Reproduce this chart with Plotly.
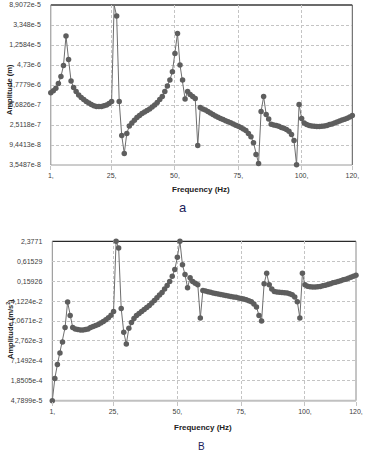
import math
import plotly.graph_objects as go

freq = list(range(1, 121))

displacement = [
    1.22e-6, 1.35e-6, 1.51e-6, 1.92e-6, 2.68e-6, 4.6e-6, 1.955e-5, 6.2e-6, 2.16e-6, 1.58e-6,
    1.29e-6, 1.09e-6, 9.7e-7, 8.79e-7, 7.97e-7, 7.37e-7, 6.88e-7, 6.48e-7, 6.24e-7, 6.2e-7,
    6.24e-7, 6.42e-7, 6.68e-7, 7.16e-7, 7.9e-7, 8.9072e-5, 5.2e-5, 7.9e-7, 1.5e-7, 6.25e-8,
    1.667e-7, 2.39e-7, 2.77e-7, 3.15e-7, 3.61e-7, 3.99e-7, 4.39e-7, 4.745e-7, 5.13e-7, 5.495e-7,
    6.06e-7, 6.68e-7, 7.59e-7, 8.79e-7, 1.008e-6, 1.3e-6, 1.693e-6, 2.27e-6, 3.42e-6, 8.34e-6,
    2.22e-5, 4.73e-6, 2.27e-6, 8.96e-7, 1.287e-6, 1.122e-6, 1.008e-6, 9.23e-7, 9.17e-8, 5.94e-7,
    5.495e-7, 5.233e-7, 4.84e-7, 4.518e-7, 4.22e-7, 3.9e-7, 3.68e-7, 3.47e-7, 3.27e-7, 3.11e-7,
    2.94e-7, 2.8e-7, 2.64e-7, 2.49e-7, 2.35e-7, 2.21e-7, 2.065e-7, 1.91e-7, 1.667e-7, 1.42e-7,
    1.06e-7, 5.96e-8, 3.84e-8, 4.84e-7, 1.008e-6, 4.22e-7, 3.37e-7, 2.59e-7, 2.51e-7, 2.44e-7,
    2.35e-7, 2.23e-7, 2.13e-7, 2.01e-7, 1.84e-7, 1.57e-7, 1.17e-7, 3.6e-8, 6.88e-7, 3.47e-7,
    2.77e-7, 2.56e-7, 2.44e-7, 2.39e-7, 2.35e-7, 2.32e-7, 2.32e-7, 2.35e-7, 2.39e-7, 2.44e-7,
    2.56e-7, 2.64e-7, 2.77e-7, 2.91e-7, 3.05e-7, 3.21e-7, 3.34e-7, 3.5e-7, 3.72e-7, 4.0e-7,
]

acceleration = [
    4.7899e-5, 2.176e-4, 5.602e-4, 1.2276e-3, 2.581e-3, 6.831e-3, 3.853e-2, 1.558e-2, 6.831e-3, 6.215e-3,
    5.967e-3, 5.809e-3, 5.809e-3, 5.967e-3, 6.215e-3, 6.924e-3, 7.308e-3, 7.819e-3, 8.48e-3, 9.321e-3,
    1.0246e-2, 1.1573e-2, 1.3247e-2, 1.5791e-2, 2.0414e-2, 2.3771, 1.5217, 2.5e-2, 4.939e-3, 2.255e-3,
    6.471e-3, 9.577e-3, 1.255e-2, 1.537e-2, 1.7833e-2, 2.0414e-2, 2.3367e-2, 2.675e-2, 3.062e-2, 3.601e-2,
    4.293e-2, 5.187e-2, 6.184e-2, 7.371e-2, 9.275e-2, 0.1183, 0.155, 0.2233, 0.3488, 0.8063,
    2.3771, 0.4824, 0.2488, 0.102, 0.2004, 0.155, 0.1391, 0.1249, 1.307e-2, 8.438e-2,
    8.103e-2, 7.781e-2, 7.471e-2, 7.175e-2, 6.889e-2, 6.616e-2, 6.439e-2, 6.184e-2, 6.019e-2, 5.78e-2,
    5.625e-2, 5.475e-2, 5.329e-2, 5.118e-2, 4.914e-2, 4.719e-2, 4.531e-2, 4.235e-2, 3.906e-2, 3.366e-2,
    2.748e-2, 1.558e-2, 1.0671e-2, 0.1336, 0.2735, 0.1249, 9.275e-2, 7.886e-2, 7.574e-2, 7.471e-2,
    7.371e-2, 7.272e-2, 7.079e-2, 6.797e-2, 6.353e-2, 5.402e-2, 3.959e-2, 1.307e-2, 0.2735, 0.1249,
    0.1136, 0.1091, 0.1062, 0.1062, 0.1091, 0.1106, 0.1167, 0.1215, 0.1266, 0.1336,
    0.1429, 0.1488, 0.155, 0.1636, 0.1751, 0.1823, 0.195, 0.2087, 0.2233, 0.2389,
]

x_tickvals = [1, 25, 50, 75, 100, 120]
x_ticktext = ["1,", "25,", "50,", "75,", "100,", "120,"]

disp_tickvals = [3.5487e-8, 9.4413e-8, 2.5118e-7, 6.6826e-7, 1.7779e-6, 4.73e-6, 1.2584e-5, 3.348e-5, 8.9072e-5]
disp_ticktext = ["3,5487e-8", "9,4413e-8", "2,5118e-7", "6,6826e-7", "1,7779e-6", "4,73e-6", "1,2584e-5", "3,348e-5", "8,9072e-5"]

acc_tickvals = [4.7899e-5, 1.8505e-4, 7.1492e-4, 2.762e-3, 1.0671e-2, 4.1224e-2, 0.15926, 0.61529, 2.3771]
acc_ticktext = ["4,7899e-5", "1,8505e-4", "7,1492e-4", "2,762e-3", "1,0671e-2", "4,1224e-2", "0,15926", "0,61529", "2,3771"]

W, H = 379, 458
FONT = "Liberation Sans"


def px_x(a, b):
    return [a / W, b / W]


def px_y(top, bottom):
    return [(H - bottom) / H, (H - top) / H]


marker = dict(size=5.5, color="#5e5e5e", line=dict(width=0))
line = dict(color="#6e6e6e", width=1)

fig = go.Figure()
fig.add_trace(go.Scatter(x=freq, y=displacement, mode="lines+markers", marker=marker, line=line,
                         xaxis="x", yaxis="y", cliponaxis=False, showlegend=False))
fig.add_trace(go.Scatter(x=freq, y=acceleration, mode="lines+markers", marker=marker, line=line,
                         xaxis="x2", yaxis="y2", cliponaxis=False, showlegend=False))

tickfont = dict(family=FONT, size=7, color="#404040")
grid = dict(showgrid=True, gridcolor="#c4c4c4", griddash="3px,2px", gridwidth=1, zeroline=False)

xcommon = dict(range=[1, 120], tickmode="array", tickvals=x_tickvals, ticktext=x_ticktext,
               tickfont=tickfont, ticks="outside", ticklen=4, tickcolor="#c4c4c4",
               showline=False, automargin=False, **grid)

fig.update_layout(
    width=W, height=H, margin=dict(l=0, r=0, t=0, b=0),
    paper_bgcolor="white", plot_bgcolor="white",
    xaxis=dict(domain=px_x(50.8, 352.3), anchor="y", **xcommon),
    yaxis=dict(domain=px_y(5, 165), anchor="x", type="log",
               range=[math.log10(3.5487e-8), math.log10(8.9072e-5)],
               tickmode="array", tickvals=disp_tickvals, ticktext=disp_ticktext,
               tickfont=tickfont, ticks="", ticklabelstandoff=9, showline=False,
               automargin=False, **grid),
    xaxis2=dict(domain=px_x(52.3, 356), anchor="y2", **xcommon),
    yaxis2=dict(domain=px_y(241.3, 400.7), anchor="x2", type="log",
                range=[math.log10(4.7899e-5), math.log10(2.3771)],
                tickmode="array", tickvals=acc_tickvals, ticktext=acc_ticktext,
                tickfont=tickfont, ticks="", ticklabelstandoff=9, showline=False,
                automargin=False, **grid),
)


def frame(xr, yr, top_c, right_c, bottom_c, left_c, bottom_w=1):
    s = []
    common = dict(type="line", xref=xr + " domain", yref=yr + " domain", layer="below")
    s.append(dict(x0=0, x1=1, y0=1, y1=1, line=dict(color=top_c, width=1.3), **common))
    s.append(dict(x0=1, x1=1, y0=0, y1=1, line=dict(color=right_c, width=1), **common))
    s.append(dict(x0=0, x1=1, y0=0, y1=0, line=dict(color=bottom_c, width=bottom_w), **common))
    s.append(dict(x0=0, x1=0, y0=0, y1=1, line=dict(color=left_c, width=1), **common))
    return s


shapes = frame("x", "y", "#3a3a3a", "#555555", "#9a9a9a", "#8a8a8a")
shapes += frame("x2", "y2", "#2a2a2a", "#8a8a8a", "#c0c0c0", "#8a8a8a", bottom_w=2)
fig.update_layout(shapes=shapes)

title_font = dict(family=FONT, size=8, color="#222222")
ann = [
    dict(text="<b>Frequency (Hz)</b>", x=201 / W, y=(H - 190) / H, font=title_font),
    dict(text="<b>Frequency (Hz)</b>", x=203 / W, y=(H - 427) / H, font=title_font),
    dict(text="<b>Amplitude (m)</b>", x=9 / W, y=(H - 90) / H, textangle=-90,
         font=dict(family=FONT, size=7.5, color="#222222")),
    dict(text="<b>Amplitude (m/s<sup>2</sup>)</b>", x=10 / W, y=(H - 329) / H, textangle=-90,
         font=dict(family=FONT, size=7.5, color="#222222")),
    dict(text="a", x=182.5 / W, y=(H - 208) / H, font=dict(family=FONT, size=13, color="#1c1c5a")),
    dict(text="B", x=201.5 / W, y=(H - 446) / H, font=dict(family=FONT, size=10, color="#1c1c5a")),
]
for a in ann:
    a.update(xref="paper", yref="paper", showarrow=False, xanchor="center", yanchor="middle")
fig.update_layout(annotations=ann)

fig.write_html("out.html", config={"displayModeBar": False},
               post_script="document.body.style.margin='0';document.body.style.overflow='hidden';")
